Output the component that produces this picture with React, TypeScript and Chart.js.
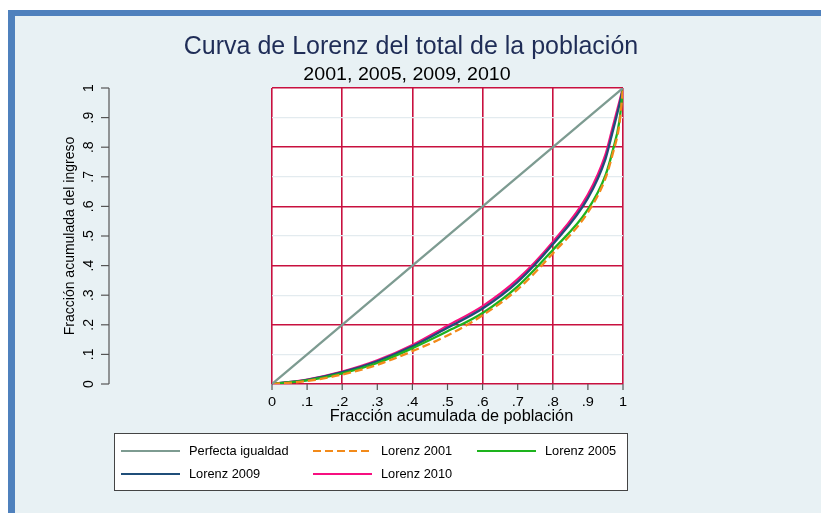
import React, { useEffect, useRef } from "react";
import { Chart, registerables } from "chart.js";
Chart.register(...registerables);

const popShare = [0, 0.1, 0.2, 0.3, 0.4, 0.5, 0.6, 0.7, 0.8, 0.9, 0.95, 0.97, 0.99, 1];
const equalityX = [0, 1];
const equalityY = [0, 1];
const lorenz2001 = [0, 0.01, 0.032, 0.065, 0.111, 0.164, 0.232, 0.32, 0.441, 0.58, 0.695, 0.775, 0.88, 1];
const lorenz2005 = [0, 0.012, 0.036, 0.071, 0.121, 0.178, 0.24, 0.33, 0.453, 0.59, 0.705, 0.785, 0.89, 1];
const lorenz2009 = [0, 0.014, 0.04, 0.077, 0.127, 0.19, 0.255, 0.345, 0.472, 0.628, 0.76, 0.85, 0.945, 1];
const lorenz2010 = [0, 0.015, 0.042, 0.08, 0.132, 0.197, 0.263, 0.354, 0.48, 0.64, 0.775, 0.865, 0.955, 1];
const tickValues = [0, 0.1, 0.2, 0.3, 0.4, 0.5, 0.6, 0.7, 0.8, 0.9, 1];
const tickLabels = ["0", ".1", ".2", ".3", ".4", ".5", ".6", ".7", ".8", ".9", "1"];
const seriesLabels = ["Perfecta igualdad", "Lorenz 2001", "Lorenz 2005", "Lorenz 2009", "Lorenz 2010"];
const titleText = "Curva de Lorenz del total de la población";
const subtitleText = "2001, 2005, 2009, 2010";
const xTitle = "Fracción acumulada de población";
const yTitle = "Fracción acumulada del ingreso";

const W = 821;
const H = 513;
const FONT = "'Liberation Sans', Arial, sans-serif";
const RED = "#c8103f";

function toPoints(xs: number[], ys: number[]) {
  return xs.map((x, i) => ({ x, y: ys[i] }));
}

function text(ctx: CanvasRenderingContext2D, s: string, x: number, y: number, size: number, color: string, rot = 0, align: CanvasTextAlign = "center", sx = 1) {
  ctx.save();
  ctx.translate(x, y);
  if (rot) ctx.rotate(rot);
  if (sx !== 1) ctx.scale(sx, 1);
  ctx.font = `${size}px ${FONT}`;
  ctx.fillStyle = color;
  ctx.textAlign = align;
  ctx.textBaseline = "middle";
  ctx.fillText(s, 0, 0);
  ctx.restore();
}

const decor = {
  id: "decor",
  beforeDraw(chart: any) {
    const ctx = chart.ctx as CanvasRenderingContext2D;
    const a = chart.chartArea;
    ctx.save();
    ctx.fillStyle = "#ffffff";
    ctx.fillRect(0, 0, W, H);
    ctx.fillStyle = "#4f81bd";
    ctx.fillRect(8, 10, W - 8, H - 10);
    ctx.fillStyle = "#e8f1f4";
    ctx.fillRect(15, 16, W - 15, H - 16);
    ctx.fillStyle = "#ffffff";
    ctx.fillRect(a.left, a.top, a.right - a.left, a.bottom - a.top);
    ctx.restore();
  },
  afterDraw(chart: any) {
    const ctx = chart.ctx as CanvasRenderingContext2D;
    const a = chart.chartArea;
    const xs = chart.scales.x;
    const ys = chart.scales.y;
    ctx.save();
    // titles
    text(ctx, titleText, 411, 47, 25, "#1f2d57");
    text(ctx, subtitleText, 407, 75, 18, "#000000", 0, "center", 1.09);

    // x axis ticks & labels
    ctx.strokeStyle = "#555555";
    ctx.lineWidth = 1.2;
    tickValues.forEach((v, i) => {
      const px = xs.getPixelForValue(v);
      ctx.beginPath();
      ctx.moveTo(px, a.bottom);
      ctx.lineTo(px, a.bottom + 6);
      ctx.stroke();
      text(ctx, tickLabels[i], px, 402, 13, "#000000", 0, "center", 1.12);
    });
    text(ctx, xTitle, (a.left + a.right) / 2 + 4, 417, 16.3, "#000000");

    // y axis (detached at the left)
    const yAxisX = 109;
    ctx.beginPath();
    ctx.moveTo(yAxisX, ys.getPixelForValue(1));
    ctx.lineTo(yAxisX, ys.getPixelForValue(0));
    ctx.stroke();
    tickValues.forEach((v, i) => {
      const py = ys.getPixelForValue(v);
      ctx.beginPath();
      ctx.moveTo(yAxisX - 8, py);
      ctx.lineTo(yAxisX, py);
      ctx.stroke();
      text(ctx, tickLabels[i], 89, py, 14, "#000000", -Math.PI / 2);
    });
    text(ctx, yTitle, 70, (a.top + a.bottom) / 2, 14, "#000000", -Math.PI / 2);

    // legend
    const lx = 114, ly = 433, lw = 513, lh = 57;
    ctx.fillStyle = "#ffffff";
    ctx.fillRect(lx, ly, lw, lh);
    ctx.strokeStyle = "#444444";
    ctx.lineWidth = 1;
    ctx.strokeRect(lx + 0.5, ly + 0.5, lw, lh);
    const cols = [121, 313, 477];
    const rows = [451, 474];
    chart.data.datasets.forEach((ds: any, i: number) => {
      const cx = cols[i % 3];
      const cy = rows[Math.floor(i / 3)];
      ctx.save();
      ctx.strokeStyle = ds.borderColor;
      ctx.lineWidth = 2.2;
      ctx.setLineDash(ds.borderDash || []);
      ctx.beginPath();
      ctx.moveTo(cx, cy);
      ctx.lineTo(cx + 59, cy);
      ctx.stroke();
      ctx.restore();
      text(ctx, ds.label, cx + 68, cy, 12.8, "#000000", 0, "left");
    });
    ctx.restore();
  },
};

export default function App() {
  const ref = useRef<HTMLCanvasElement | null>(null);
  useEffect(() => {
    document.body.style.margin = "0";
    const canvas = ref.current!;
    const common = { pointRadius: 0, fill: false, borderWidth: 2.3, cubicInterpolationMode: "monotone" as const };
    const chart = new Chart(canvas, {
      type: "line",
      data: {
        datasets: [
          { ...common, label: seriesLabels[0], data: toPoints(equalityX, equalityY), borderColor: "#7d9b91" },
          { ...common, label: seriesLabels[1], data: toPoints(popShare, lorenz2001), borderColor: "#f28a1a", borderDash: [8, 4] },
          { ...common, label: seriesLabels[2], data: toPoints(popShare, lorenz2005), borderColor: "#1db31d" },
          { ...common, label: seriesLabels[3], data: toPoints(popShare, lorenz2009), borderColor: "#1f4e79" },
          { ...common, label: seriesLabels[4], data: toPoints(popShare, lorenz2010), borderColor: "#f70f80" },
        ],
      },
      options: {
        responsive: false,
        animation: false,
        devicePixelRatio: 1,
        layout: { padding: { left: 272, top: 88, right: W - 623, bottom: H - 384 } },
        plugins: { legend: { display: false }, title: { display: false }, tooltip: { enabled: false } },
        scales: {
          x: {
            type: "linear",
            min: 0,
            max: 1,
            ticks: { display: false, stepSize: 0.2 },
            border: { display: false },
            grid: { color: RED, lineWidth: 1.6, drawTicks: false },
            afterFit: (s: any) => { s.height = 0; },
          },
          y: {
            type: "linear",
            min: 0,
            max: 1,
            ticks: { display: false, stepSize: 0.1 },
            border: { display: false },
            grid: {
              drawTicks: false,
              color: (c: any) => (Math.round(c.tick.value * 10) % 2 === 0 ? RED : "#e3ebef"),
              lineWidth: (c: any) => (Math.round(c.tick.value * 10) % 2 === 0 ? 1.6 : 1.2),
            },
            afterFit: (s: any) => { s.width = 0; },
          },
        },
      },
      plugins: [decor],
    });
    return () => chart.destroy();
  }, []);
  return (
    <div style={{ position: "absolute", left: 0, top: 0, width: W, height: H }}>
      <canvas ref={ref} width={W} height={H} style={{ width: W, height: H, display: "block" }} />
    </div>
  );
}
